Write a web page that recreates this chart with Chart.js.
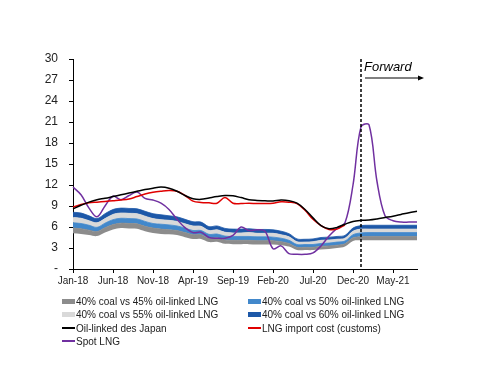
<!DOCTYPE html>
<html>
<head>
<meta charset="utf-8">
<script src="https://cdn.jsdelivr.net/npm/chart.js@4.4.0/dist/chart.umd.min.js"></script>
<style>
html, body { margin: 0; padding: 0; background: #fff; }
#wrap { position: relative; width: 500px; height: 386px; }
#legend .item { position: absolute; height: 12px; display: flex; align-items: center;
  font: 10px "Liberation Sans", Arial, sans-serif; color: #222; white-space: nowrap; }
#legend .key { width: 13px; margin-right: 1px; }
</style>
</head>
<body>
<div id="wrap">
  <canvas id="chart" width="500" height="386"></canvas>
  <div id="legend"></div>
</div>
<script>
var months = ['Jan-18','Feb-18','Mar-18','Apr-18','May-18','Jun-18','Jul-18','Aug-18','Sep-18','Oct-18','Nov-18','Dec-18',
  'Jan-19','Feb-19','Mar-19','Apr-19','May-19','Jun-19','Jul-19','Aug-19','Sep-19','Oct-19','Nov-19','Dec-19',
  'Jan-20','Feb-20','Mar-20','Apr-20','May-20','Jun-20','Jul-20','Aug-20','Sep-20','Oct-20','Nov-20','Dec-20',
  'Jan-21','Feb-21','Mar-21','Apr-21','May-21','Jun-21','Jul-21','Aug-21'];

// lower edge of the switching band
var bandBase = [5.1,5.0,4.85,4.7,5.2,5.65,5.85,5.8,5.75,5.4, 5.15,5.0,4.95,4.85,4.55,4.3,4.3,3.85,3.9,3.6,
  3.55,3.55,3.55,3.5,3.5,3.5,3.4,3.2,2.7,2.7, 2.7,2.8,2.85,3.0,3.2,4.0,4.1,4.1,4.1,4.1, 4.1,4.1,4.1,4.1];
var coal45 = [5.85,5.75,5.55,5.35,5.9,6.35,6.55,6.5,6.45,6.1, 5.85,5.7,5.6,5.5,5.2,4.9,4.9,4.4,4.45,4.15,
  4.1,4.1,4.1,4.05,4.05,4.05,3.9,3.65,3.1,3.1, 3.1,3.25,3.3,3.4,3.6,4.45,4.6,4.65,4.65,4.65, 4.65,4.65,4.65,4.65];
var coal50 = [6.6,6.5,6.25,5.95,6.55,7.05,7.25,7.2,7.15,6.8, 6.5,6.4,6.3,6.15,5.85,5.5,5.5,4.95,5.0,4.7,
  4.65,4.65,4.65,4.6,4.6,4.55,4.4,4.1,3.5,3.5, 3.5,3.65,3.7,3.85,4.0,4.9,5.15,5.2,5.2,5.2, 5.2,5.2,5.2,5.2];
var coal55 = [7.35,7.25,6.9,6.6,7.2,7.8,8.0,7.95,7.9,7.55, 7.2,7.05,6.95,6.8,6.45,6.15,6.1,5.5,5.6,5.25,
  5.15,5.15,5.2,5.1,5.1,5.1,4.9,4.6,3.9,3.85, 3.9,4.1,4.15,4.25,4.4,5.4,5.7,5.7,5.7,5.7, 5.7,5.7,5.7,5.7];
var coal60 = [8.1,8.0,7.6,7.2,7.9,8.5,8.7,8.65,8.6,8.25, 7.9,7.75,7.6,7.45,7.1,6.75,6.7,6.05,6.15,5.8,
  5.7,5.7,5.75,5.65,5.65,5.6,5.4,5.05,4.3,4.25, 4.3,4.5,4.55,4.65,4.8,5.85,6.2,6.25,6.25,6.25, 6.25,6.25,6.25,6.25];

var oilLinked = [8.6,9.1,9.55,9.9,10.1,10.35,10.6,10.85,11.1,11.35, 11.55,11.7,11.55,11.1,10.5,10.05,9.95,10.15,10.35,10.5,
  10.45,10.2,9.9,9.8,9.75,9.7,9.85,9.75,9.4,8.5, 7.3,6.2,5.75,5.95,6.4,6.8,6.95,7.0,7.15,7.35, 7.55,7.8,8.05,8.25];
var importCost = [8.85,9.2,9.45,9.55,9.65,9.75,9.85,10.0,10.35,10.7, 10.95,11.1,11.2,11.1,10.5,9.7,9.5,9.45,9.4,10.2,
  9.4,9.35,9.4,9.35,9.35,9.4,9.6,9.55,9.35,8.4, 7.1,6.2,5.65,5.7,6.3];
var spotLng = [11.7,10.6,8.7,7.45,9.0,10.4,9.9,10.5,11.0,10.1, 9.85,9.4,8.5,7.1,5.9,5.2,5.25,4.5,4.4,4.4,
  4.8,6.0,5.5,5.6,5.4,2.9,3.3,2.2,2.1,2.1, 2.3,3.3,4.7,5.8,6.6,12.0,20.3,20.6,12.5,7.6, 6.9,6.7,6.7,6.7];

var forwardIndex = 36;

function band(label, data, color) {
  return { label: label, data: data, backgroundColor: color, borderColor: color, borderWidth: 0.8,
    pointRadius: 0, tension: 0.35, fill: '-1', order: 2 };
}
function line(label, data, color) {
  return { label: label, data: data, borderColor: color, backgroundColor: color, borderWidth: 1.5,
    pointRadius: 0, tension: 0.35, fill: false, order: 1 };
}

var datasets = [
  { label: 'base', data: bandBase, borderWidth: 0, pointRadius: 0, tension: 0.35, fill: false, order: 2 },
  band('40% coal vs 45% oil-linked LNG', coal45, '#8c8c8c'),
  band('40% coal vs 50% oil-linked LNG', coal50, '#4288cb'),
  band('40% coal vs 55% oil-linked LNG', coal55, '#d9d9d9'),
  band('40% coal vs 60% oil-linked LNG', coal60, '#1d58a8'),
  line('Oil-linked des Japan', oilLinked, '#000000'),
  line('LNG import cost (customs)', importCost, '#e00000'),
  line('Spot LNG', spotLng, '#7030a0')
];

var forwardLine = {
  id: 'forwardLine',
  afterDatasetsDraw: function(chart) {
    var ctx = chart.ctx, area = chart.chartArea;
    var px = chart.scales.x.getPixelForValue(forwardIndex);
    ctx.save();
    ctx.strokeStyle = '#000';
    ctx.fillStyle = '#000';
    ctx.lineWidth = 1.5;
    ctx.setLineDash([3, 2]);
    ctx.beginPath();
    ctx.moveTo(px, area.top);
    ctx.lineTo(px, area.bottom);
    ctx.stroke();
    ctx.setLineDash([]);
    ctx.font = 'italic 13px "Liberation Sans"';
    ctx.textAlign = 'left';
    ctx.textBaseline = 'alphabetic';
    ctx.fillText('Forward', px + 3, area.top + 12);
    var ay = area.top + 19;
    ctx.lineWidth = 1;
    ctx.beginPath();
    ctx.moveTo(px + 4, ay);
    ctx.lineTo(px + 58, ay);
    ctx.stroke();
    ctx.beginPath();
    ctx.moveTo(px + 63, ay);
    ctx.lineTo(px + 57, ay - 2.5);
    ctx.lineTo(px + 57, ay + 2.5);
    ctx.closePath();
    ctx.fill();
    ctx.restore();
  }
};

Chart.defaults.font.family = '"Liberation Sans", Arial, sans-serif';
Chart.defaults.color = '#222';

new Chart(document.getElementById('chart'), {
  type: 'line',
  data: { labels: months, datasets: datasets },
  options: {
    responsive: false,
    animation: false,
    events: [],
    layout: { padding: { left: 0, top: 59, right: 83, bottom: 97 } },
    plugins: { legend: { display: false }, tooltip: { enabled: false } },
    scales: {
      x: {
        offset: false,
        grid: { drawOnChartArea: false, drawTicks: true, tickLength: 4, color: '#000' },
        border: { color: '#000', width: 1 },
        ticks: { autoSkip: false, maxRotation: 0, padding: 2, font: { size: 10 }, color: '#222' },
        afterBuildTicks: function(s) { s.ticks = s.ticks.filter(function(t) { return t.value % 5 === 0; }); },
        afterFit: function(s) { s.height = 20; }
      },
      y: {
        min: 0, max: 30,
        grid: { drawOnChartArea: false, drawTicks: true, tickLength: 4, color: '#000' },
        border: { color: '#000', width: 1 },
        ticks: { stepSize: 3, padding: 11, font: { size: 12 }, color: '#222',
          callback: function(v) { return v === 0 ? '-' : v; } },
        afterFit: function(s) { s.width = 73; }
      }
    }
  },
  plugins: [forwardLine]
});

// legend below the chart, two columns
var legendItems = [
  { ds: 1, col: 0, row: 0, band: true }, { ds: 2, col: 1, row: 0, band: true },
  { ds: 3, col: 0, row: 1, band: true }, { ds: 4, col: 1, row: 1, band: true },
  { ds: 5, col: 0, row: 2 }, { ds: 6, col: 1, row: 2 },
  { ds: 7, col: 0, row: 3 }
];
var colX = [62, 248], rowY = [301, 314, 328, 341];
var legend = document.getElementById('legend');
legendItems.forEach(function(it) {
  var ds = datasets[it.ds];
  var el = document.createElement('div');
  el.className = 'item';
  el.style.left = colX[it.col] + 'px';
  el.style.top = (rowY[it.row] - 6) + 'px';
  var key = document.createElement('span');
  key.className = 'key';
  key.style.height = it.band ? '5px' : '2px';
  key.style.background = ds.borderColor;
  var txt = document.createElement('span');
  txt.textContent = ds.label;
  el.appendChild(key);
  el.appendChild(txt);
  legend.appendChild(el);
});
</script>
</body>
</html>
